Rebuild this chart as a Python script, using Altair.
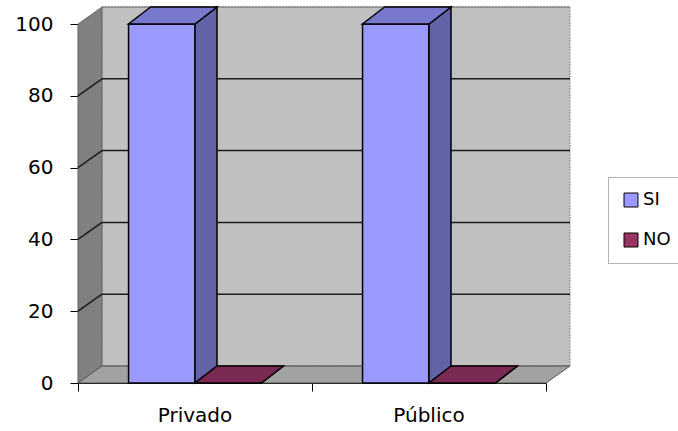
import altair as alt
import pandas as pd

# ---- data ----
categories = ["Privado", "Público"]
series = ["SI", "NO"]
si_values = [100, 100]
no_values = [0, 0]
y_ticks = [0, 20, 40, 60, 80, 100]
x_ticks = [0, 1, 2]

# ---- styles ----
front_colors = ["#9999FF", "#993366"]
side_colors = ["#6262A6", "#6B2247"]
top_colors = ["#7878CC", "#7A2952"]
FONT = "DejaVu Sans"

W, H = 468, 359          # plot area (front face)
DX, DY = 22, 17          # bar depth in px
WDX, WDY = 24, 17        # wall depth in px
ux = 2.0 / W             # data units per px (x)
uy = 100.0 / H           # data units per px (y)
slots = {"SI": (0.216, 0.5), "NO": (0.5, 0.784)}

values = {"SI": si_values, "NO": no_values}
fronts, sides, tops = [], [], []
for i, cat in enumerate(categories):
    for j, s in enumerate(series):
        v = values[s][i]
        x0 = i + slots[s][0]
        x1 = i + slots[s][1]
        bid = f"{cat}-{s}"
        fronts.append(dict(cat=cat, series=s, x0=x0, x1=x1, v=v))
        dxu, dyu = DX * ux, DY * uy
        sides.append(dict(id=bid, c=side_colors[j], x=x1, y=0, y2=v))
        sides.append(dict(id=bid, c=side_colors[j], x=x1 + dxu, y=dyu, y2=v + dyu))
        tops.append(dict(id=bid, c=top_colors[j], y=v, x=x0, x2=x1))
        tops.append(dict(id=bid, c=top_colors[j], y=v + dyu, x=x0 + dxu, x2=x1 + dxu))

fronts_df = pd.DataFrame(fronts)
sides_df = pd.DataFrame(sides)
tops_df = pd.DataFrame(tops)

wdx, wdy = WDX * ux, WDY * uy
back_df = pd.DataFrame([dict(x0=wdx, x1=2 + wdx, y0=wdy, y1=100 + wdy)])
left_df = pd.DataFrame([dict(x=0, y=0, y2=100), dict(x=wdx, y=wdy, y2=100 + wdy)])
floor_df = pd.DataFrame([dict(y=0, x=0, x2=2), dict(y=wdy, x=wdx, x2=2 + wdx)])
grid_df = pd.DataFrame(dict(v=y_ticks[1:-1], xa=0, xb=2))
edge_df = pd.DataFrame(dict(v=[0, 100], xa=0, xb=2))
labels_df = pd.DataFrame(dict(cat=categories, xc=[i + 0.5 for i in range(len(categories))], y=0))

xs = alt.Scale(domain=[0, 2], nice=False, zero=False)
ys = alt.Scale(domain=[0, 100], nice=False)
xax = alt.Axis(values=x_ticks, labels=False, title=None, grid=False, domainColor="black",
               domainWidth=1.2, tickColor="black", tickSize=8, tickWidth=1)
yax = alt.Axis(values=y_ticks, title=None, grid=False, domainColor="black", domainWidth=1.2,
               tickColor="black", tickSize=8, tickWidth=1, labelFont=FONT, labelFontSize=20,
               labelColor="black", labelPadding=17)


def X(f):
    return alt.X(f, scale=xs, axis=xax)


def Y(f):
    return alt.Y(f, scale=ys, axis=yax)


back = alt.Chart(back_df).mark_rect(fill="#C0C0C0", stroke="#8A8A8A", strokeWidth=1, strokeDash=[2, 1]).encode(
    x=X("x0:Q"), x2="x1", y=Y("y0:Q"), y2="y1")

left = alt.Chart(left_df).mark_area(orient="vertical", fill="#808080", stroke="#5A5A5A", strokeWidth=0.8).encode(
    x=X("x:Q"), y=Y("y:Q"), y2="y2")

floor = alt.Chart(floor_df).mark_area(orient="horizontal", fill="#A2A2A2", stroke="#555555", strokeWidth=1).encode(
    y=Y("y:Q"), x=X("x:Q"), x2="x2")

grid_back = alt.Chart(grid_df).mark_rule(color="#1A1A1A", strokeWidth=1.5, xOffset=WDX, x2Offset=WDX, yOffset=-WDY).encode(
    x=X("xa:Q"), x2="xb", y=Y("v:Q"))
grid_left = alt.Chart(grid_df).mark_rule(color="#1A1A1A", strokeWidth=1.5, x2Offset=WDX, y2Offset=-WDY).encode(
    x=X("xa:Q"), x2="xa", y=Y("v:Q"), y2="v")
edge_back = alt.Chart(edge_df).mark_rule(color="#707070", strokeWidth=1, xOffset=WDX, x2Offset=WDX, yOffset=-WDY).encode(
    x=X("xa:Q"), x2="xb", y=Y("v:Q"))

front = alt.Chart(fronts_df).mark_rect(stroke="black", strokeWidth=1.5).encode(
    x=X("x0:Q"),
    x2="x1",
    y=Y("v:Q"),
    y2=alt.datum(0),
    color=alt.Color("series:N", scale=alt.Scale(domain=series, range=front_colors),
                    legend=alt.Legend(title=None, orient="none", legendX=530, legendY=153,
                                      symbolType="square", symbolSize=196, symbolStrokeColor="black",
                                      symbolStrokeWidth=1, symbolOpacity=1, labelFont=FONT, labelFontSize=18,
                                      labelColor="black", labelOffset=3, rowPadding=22, padding=14,
                                      fillColor="white")),
)

side = alt.Chart(sides_df).mark_area(orient="vertical", stroke="black", strokeWidth=1.5).encode(
    x=X("x:Q"), y=Y("y:Q"), y2="y2",
    detail="id:N", fill=alt.Fill("c:N", scale=None))

top = alt.Chart(tops_df).mark_area(orient="horizontal", stroke="black", strokeWidth=1.5).encode(
    y=Y("y:Q"), x=X("x:Q"), x2="x2",
    detail="id:N", fill=alt.Fill("c:N", scale=None))

cat_labels = alt.Chart(labels_df).mark_text(font=FONT, fontSize=20, color="black", dy=33, baseline="middle").encode(
    x=X("xc:Q"), y=Y("y:Q"), text="cat:N")

chart = alt.layer(back, left, floor, edge_back, grid_back, grid_left, front, side, top, cat_labels).properties(
    width=W, height=H,
    padding={"left": 78, "top": 24, "right": 132, "bottom": 48},
    autosize=alt.AutoSizeParams(type="none"),
).configure_view(stroke=None).configure(background="white").configure_legend(
    strokeColor="#666666", strokeDash=[1, 1])

chart.save("out.html", embed_options={"renderer": "svg", "actions": False})
